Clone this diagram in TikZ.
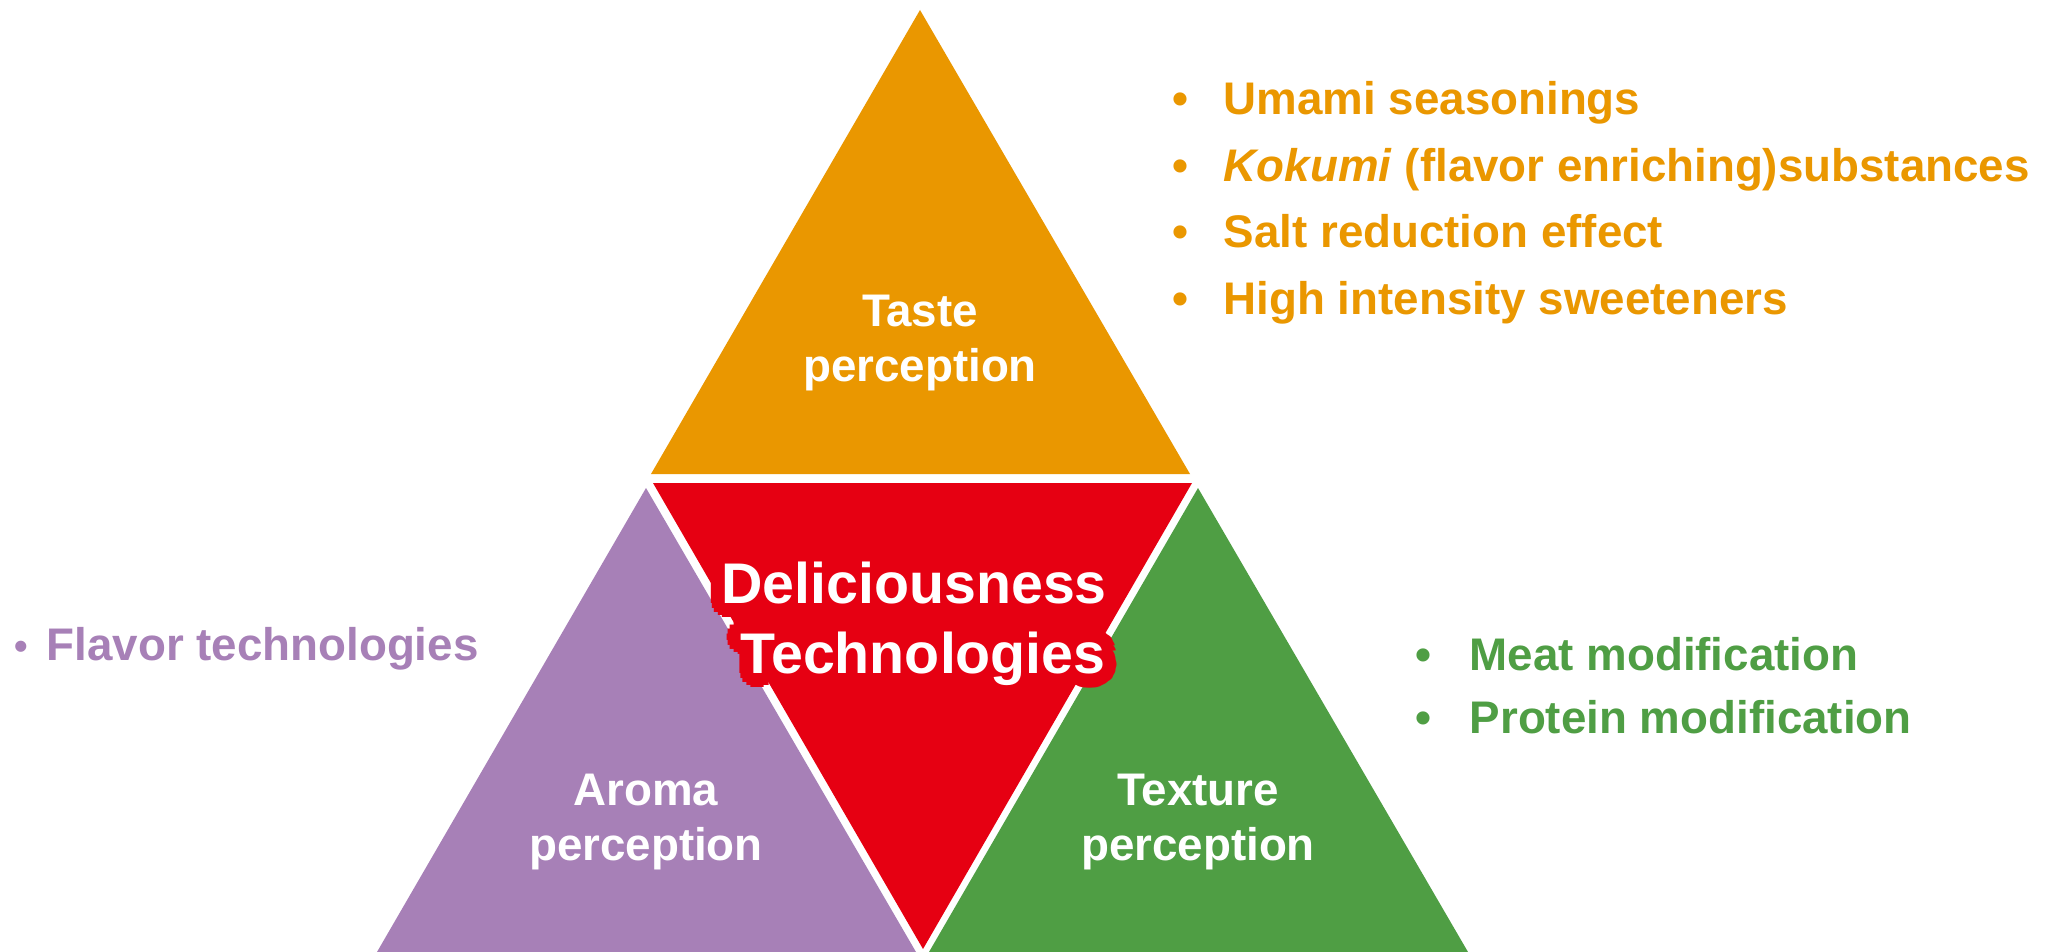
\documentclass[tikz,border=0pt]{standalone}
\usepackage{fontspec}
\setmainfont{Liberation Sans}
\definecolor{tasteorange}{RGB}{234,151,0}
\definecolor{corered}{RGB}{230,0,18}
\definecolor{aromapurple}{RGB}{167,128,183}
\definecolor{texturegreen}{RGB}{79,158,68}
\newcommand{\coretitle}{Deliciousness\kern0.12cm\\\kern0.06cm Technologies}
\begin{document}
\begin{tikzpicture}[x=0.01cm,y=-0.01cm,
  facelabel/.style={text=white,font=\bfseries\fontsize{13}{15.9}\selectfont,align=center,inner sep=0pt},
  corelabel/.style={font=\bfseries\fontsize{16.3}{19.9}\selectfont,align=center,inner sep=0pt},
  item/.style={font=\bfseries\fontsize{13}{15.6}\selectfont,anchor=base west,inner sep=0pt},
  bullet/.style={font=\bfseries\fontsize{13}{15.6}\selectfont,anchor=base,inner sep=0pt}]
  % canvas
  \fill[white] (0,0) rectangle (2049,952);
  \path[use as bounding box] (0,0) rectangle (2049,952);

  % the four triangles
  \fill[tasteorange]  (920,10)   -- (651,474) -- (1190,474) -- cycle;
  \fill[corered]      (653,483)  -- (1192,483) -- (923,949) -- cycle;
  \fill[aromapurple]  (646,488)  -- (377,952) -- (916,952) -- cycle;
  \fill[texturegreen] (1198,488) -- (929,952) -- (1468,952) -- cycle;

  % face labels
  \node[facelabel] (taste)   at (920,343)  {Taste\\perception};
  \node[facelabel] (aroma)   at (646,822)  {Aroma\\perception};
  \node[facelabel] (texture) at (1198,822) {Texture\\perception};

  % centre title with a red halo following the letters
  \foreach \a in {0,45,...,315}
    \node[corelabel,text=corered,shift={(\a:7)}] (halo-in-\a) at (920,624) {\coretitle};
  \foreach \a in {0,20,...,340}
    \node[corelabel,text=corered,shift={(\a:14)}] (halo-out-\a) at (920,624) {\coretitle};
  \node[corelabel,text=white] (core) at (920,624) {\coretitle};

  % taste technologies
  \begin{scope}[text=tasteorange]
    \node[bullet] (tb1) at (1180,115) {•};
    \node[bullet] (tb2) at (1180,182) {•};
    \node[bullet] (tb3) at (1180,248) {•};
    \node[bullet] (tb4) at (1180,315) {•};
    \node[item] (t1) at (1223,115) {Umami seasonings};
    \node[item] (t2) at (1223,182) {\textit{Kokumi} (flavor enriching)substances};
    \node[item] (t3) at (1223,248) {Salt reduction effect};
    \node[item] (t4) at (1223,315) {High intensity sweeteners};
  \end{scope}

  % aroma technologies
  \node[bullet,text=aromapurple,font=\bfseries\fontsize{11}{13}\selectfont] (ab1) at (21,659) {•};
  \node[item,text=aromapurple] (a1) at (46,660) {Flavor technologies};

  % texture technologies
  \begin{scope}[text=texturegreen]
    \node[bullet] (gb1) at (1423,670) {•};
    \node[bullet] (gb2) at (1423,733) {•};
    \node[item] (g1) at (1469,670) {Meat modification};
    \node[item] (g2) at (1469,733) {Protein modification};
  \end{scope}
\end{tikzpicture}
\end{document}
